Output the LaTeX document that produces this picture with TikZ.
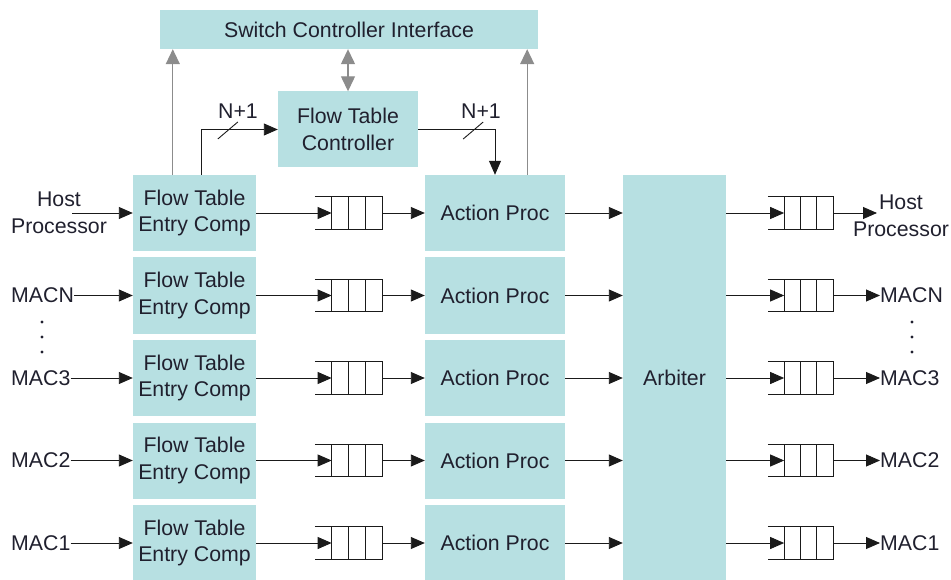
\documentclass[tikz,border=0pt]{standalone}
\usepackage{fontspec}
\setmainfont{Liberation Sans}
\usetikzlibrary{arrows.meta,calc}
\definecolor{boxfill}{HTML}{B7E0E2}
\definecolor{wire}{HTML}{1A1A1A}
\definecolor{ctrl}{HTML}{8C8C8C}
\definecolor{ink}{HTML}{20202E}
\begin{document}
\begin{tikzpicture}[x=1pt,y=-1pt,
  font=\fontsize{21.3}{26.5}\selectfont,
  block/.style={fill=boxfill, draw=none, inner sep=0pt, align=center, text=ink},
  label/.style={inner sep=0pt, align=center, text=ink},
  queue/.style={draw=none, inner sep=0pt, minimum height=32pt},
  qline/.style={draw=wire, line width=1.2pt},
  sig/.style={draw=wire, line width=0.9pt, -{Triangle[length=14pt,width=12pt]}},
  ctl/.style={draw=ctrl, line width=1.3pt, -{Triangle[length=15pt,width=14pt]}},
  tick/.style={draw=wire, line width=0.9pt}]
\useasboundingbox (0,0) rectangle (951,580);

% control plane
\node[block, minimum width=378pt, minimum height=39pt] (sci) at (349,29.5) {Switch Controller Interface};
\node[block, minimum width=140pt, minimum height=76pt] (ftc) at (348,129.5) {Flow Table\\Controller};

% arbiter
\node[block, minimum width=103pt, minimum height=405pt] (arb) at (674.5,377.5) {Arbiter};

% one lane per port
\foreach \i/\y in {1/213,2/295.5,3/378,4/460.5,5/543} {
  \node[block, minimum width=123pt, minimum height=76pt] (fte\i) at (194.5,\y) {Flow Table\\Entry Comp};
  \node[block, minimum width=140pt, minimum height=76pt] (ap\i) at (495,\y) {Action Proc};
  % input queue
  \node[queue, minimum width=67pt] (q\i) at (348.5,\y) {};
  \draw[qline] (q\i.north west) -- (q\i.north east) -- (q\i.south east) -- (q\i.south west);
  \foreach \f in {0.25,0.5,0.75}
    \draw[qline] ($(q\i.north west)!\f!(q\i.north east)$) -- ($(q\i.south west)!\f!(q\i.south east)$);
  \coordinate (q\i-in) at ($(q\i.west)!0.25!(q\i.east)$);
  % output queue
  \node[queue, minimum width=65pt] (r\i) at (800.5,\y) {};
  \draw[qline] (r\i.north west) -- (r\i.north east) -- (r\i.south east) -- (r\i.south west);
  \foreach \f in {0.25,0.5,0.75}
    \draw[qline] ($(r\i.north west)!\f!(r\i.north east)$) -- ($(r\i.south west)!\f!(r\i.south east)$);
  \coordinate (r\i-in) at ($(r\i.west)!0.25!(r\i.east)$);
  % datapath arrows
  \draw[sig] (fte\i.east) -- (q\i-in);
  \draw[sig] (q\i.east) -- (ap\i.west);
  \draw[sig] (ap\i.east) -- (ap\i.east -| arb.west);
  \draw[sig] (arb.east |- r\i-in) -- (r\i-in);
}

% port labels, inputs
\node[label] (in1) at (59,213) {Host\\Processor};
\coordinate (in1-tap) at (72,213);
\draw[sig] (in1-tap) -- (fte1.west);
\foreach \i/\t in {2/MACN,3/MAC3,4/MAC2,5/MAC1} {
  \node[label, anchor=west] (in\i) at (11,0 |- fte\i.west) {\t};
  \draw[sig] (in\i.east) -- (fte\i.west);
}

% port labels, outputs
\node[label] (out1) at (901,216) {Host\\Processor};
\coordinate (out1-tip) at (877,213);
\draw[sig] (r1.east) -- (out1-tip);
\foreach \i/\t in {2/MACN,3/MAC3,4/MAC2,5/MAC1} {
  \node[label, anchor=west] (out\i) at (880,0 |- r\i.east) {\t};
  \draw[sig] (r\i.east) -- (out\i.west);
}

% ellipsis dots
\foreach \x in {42,912}
  \foreach \d in {322,337,352}
    \fill[ink] (\x,\d) circle[radius=1.7pt];

% links to the switch controller interface
\coordinate (upL) at ([xshift=40pt]fte1.north west);
\coordinate (upR) at ([xshift=-38pt]ap1.north east);
\draw[ctl] (upL) -- (upL |- sci.south);
\draw[ctl] (upR) -- (upR |- sci.south);
\draw[ctl, {Triangle[length=15pt,width=14pt]}-{Triangle[length=15pt,width=14pt]}] (ftc.north) -- (ftc.north |- sci.south);

% N+1 buses to and from the flow table controller
\coordinate (nL) at ([xshift=69pt]fte1.north west);
\draw[sig] (nL) |- (ftc.west);
\draw[tick] ($(nL |- ftc.west)+(16,9.5)$) -- ++(20,-17);
\node[label] (nl1) at (238,111) {N+1};
\coordinate (nR) at (ftc.east);
\draw[sig] (nR) -| (ap1.north);
\draw[tick] ($(nR)+(45,9.5)$) -- ++(20,-17);
\node[label] (nl2) at (481,111) {N+1};
\end{tikzpicture}
\end{document}
